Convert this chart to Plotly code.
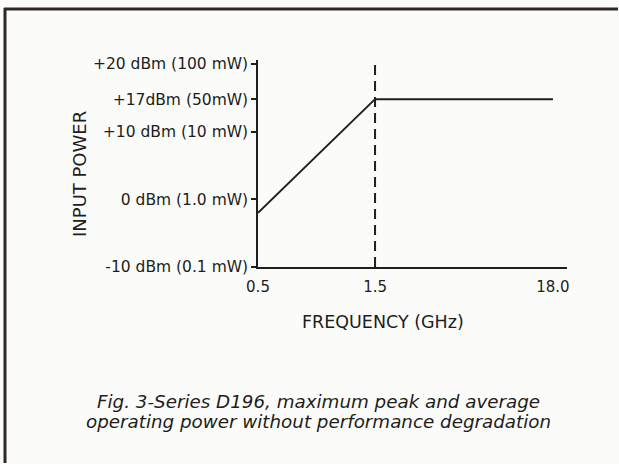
import numpy as np
import plotly.graph_objects as go

# ---- data ----
freq_ghz = [0.5, 1.5, 18.0]                  # frequencies of the curve's vertices
freq_labels = ["0.5", "1.5", "18.0"]          # x tick labels
power_dbm = [-2, 17, 17]                     # max input power (dBm) at each frequency
power_ticks = [-10, 0, 10, 17, 20]
power_tick_text = ["-10 dBm (0.1 mW)", "0 dBm (1.0 mW)", "+10 dBm (10 mW)",
                   "+17dBm (50mW)", "+20 dBm (100 mW)"]
break_freq_ghz = 1.5

# The original figure is schematic: both axes use hand-drawn, non-linear spacing.
# These describe where each labelled value sits along the drawn axis.
freq_axis_pos = [0.0, 1.0, 2.52]
power_axis_pos = [-10, 0, 10, 14.8, 20]

def fx(v):
    return np.interp(v, freq_ghz, freq_axis_pos)

def fy(v):
    return np.interp(v, power_ticks, power_axis_pos)

W, H = 619, 464
L, R, T, B = 258, 52, 60, 197
PW, PH = W - L - R, H - T - B
INK = "#221c1c"
BG = "#fbfcf9"
FONT = "DejaVu Sans"

def px_to_paper_x(px):
    return (px - L) / PW

def px_to_paper_y(py):
    return (H - B - py) / PH

fig = go.Figure()
fig.add_trace(go.Scatter(
    x=fx(freq_ghz), y=fy(power_dbm), mode="lines",
    line=dict(color=INK, width=2), hoverinfo="skip", showlegend=False))

fig.add_vline(x=float(fx(break_freq_ghz)), line=dict(color=INK, width=2, dash="10px,6px"))

fig.update_layout(
    width=W, height=H,
    margin=dict(l=L, r=R, t=T, b=B, autoexpand=False),
    paper_bgcolor=BG, plot_bgcolor=BG,
    font=dict(family=FONT, color=INK),
    xaxis=dict(
        range=[0, 2.64], tickvals=fx(freq_ghz), ticktext=freq_labels,
        showgrid=False, zeroline=False, showline=True, linecolor=INK, linewidth=1.5,
        ticks="", ticklabelstandoff=5, tickfont=dict(size=15, family=FONT, color=INK),
        fixedrange=True),
    yaxis=dict(
        range=[-10, 20.58], tickvals=fy(power_ticks), ticktext=power_tick_text,
        showgrid=False, zeroline=False, showline=True, linecolor=INK, linewidth=1.5,
        ticks="outside", ticklen=5, tickwidth=1.5, tickcolor=INK,
        tickfont=dict(size=15.5, family=FONT, color=INK),
        fixedrange=True),
)

# axis titles (placed as in the reference)
fig.add_annotation(
    xref="paper", yref="paper", x=px_to_paper_x(383), y=px_to_paper_y(322),
    text="FREQUENCY (GHz)", showarrow=False, xanchor="center", yanchor="middle",
    font=dict(size=17.5, family=FONT, color=INK))
fig.add_annotation(
    xref="paper", yref="paper", x=px_to_paper_x(79), y=px_to_paper_y(174),
    text="INPUT POWER", textangle=-90, showarrow=False, xanchor="center", yanchor="middle",
    font=dict(size=18, family=FONT, color=INK))

# outer frame (top and left edges visible in the reference)
FRAME = "#33262a"
fig.add_shape(type="line", xref="paper", yref="paper",
              x0=px_to_paper_x(4), x1=px_to_paper_x(W - 1),
              y0=px_to_paper_y(9), y1=px_to_paper_y(9),
              line=dict(color=FRAME, width=3))
fig.add_shape(type="line", xref="paper", yref="paper",
              x0=px_to_paper_x(5), x1=px_to_paper_x(5),
              y0=px_to_paper_y(8), y1=px_to_paper_y(H - 1),
              line=dict(color=FRAME, width=3))

caption = ["Fig. 3-Series D196, maximum peak and average",
           "operating power without performance degradation"]
for i, line in enumerate(caption):
    fig.add_annotation(
        xref="paper", yref="paper", x=px_to_paper_x(318), y=px_to_paper_y(401 + 20 * i),
        text="<i>" + line + "</i>", showarrow=False, xanchor="center", yanchor="middle",
        font=dict(size=18.3, family=FONT, color=INK))

fig.write_html("out.html", config={"displayModeBar": False},
               post_script="document.body.style.margin='0';")
